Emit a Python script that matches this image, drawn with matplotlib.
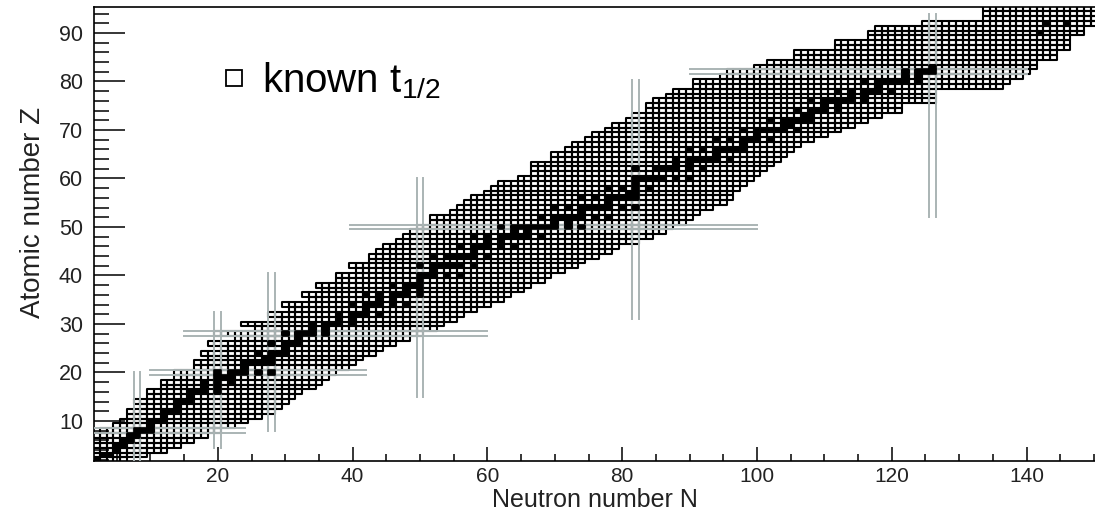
import numpy as np
import matplotlib
matplotlib.use("Agg")
import matplotlib.pyplot as plt
from matplotlib.collections import PatchCollection
from matplotlib.patches import Rectangle
from matplotlib.lines import Line2D
from matplotlib.ticker import MultipleLocator

plt.rcParams['font.family'] = ['Liberation Sans', 'DejaVu Sans']
plt.rcParams['mathtext.default'] = 'regular'

# known half-lives: for each Z, lightest and heaviest N
z_vals = list(range(2, 96))
n_min = [1, 1, 1, 2, 2, 2, 3, 5, 6, 7, 7, 9, 8, 10, 10, 12, 12, 14, 14, 17,
         17, 19, 18, 21, 19, 23, 20, 26, 24, 29, 28, 31, 30, 34, 33, 36, 35, 38, 38, 41,
         40, 43, 43, 44, 45, 47, 48, 49, 50, 52, 52, 55, 56, 57, 58, 60, 61, 62, 65, 67,
         67, 67, 70, 70, 72, 73, 75, 76, 78, 79, 81, 82, 84, 84, 85, 87, 88, 91, 91, 95,
         96, 100, 102, 106, 106, 112, 112, 117, 117, 118, 125, 134, 134, 134]
n_max = [6, 9, 12, 14, 16, 18, 20, 22, 24, 26, 28, 29, 30, 31, 32, 34, 35, 36, 37, 39,
         40, 41, 43, 44, 46, 48, 50, 52, 53, 55, 56, 58, 60, 62, 63, 65, 66, 68, 69, 71,
         73, 74, 76, 78, 79, 82, 84, 86, 87, 89, 90, 91, 93, 95, 96, 96, 97, 98, 99, 100,
         101, 102, 103, 104, 105, 106, 108, 110, 112, 114, 116, 118, 121, 121, 126, 126, 126, 136, 137, 139,
         140, 141, 141, 144, 144, 146, 146, 146, 148, 148, 151, 152, 152, 152]

# stable (filled) nuclides, N values per Z
stable = {
    2: [1, 2], 3: [3, 4], 4: [5], 5: [5, 6], 6: [6, 7], 7: [7, 8], 8: [8, 9, 10],
    9: [10], 10: [10, 11, 12], 11: [12], 12: [12, 13, 14], 13: [14], 14: [14, 15, 16],
    15: [16], 16: [16, 17, 18, 20], 17: [18, 20], 18: [18, 20, 22], 19: [20, 21, 22],
    20: [20, 22, 23, 24, 26, 28], 21: [24], 22: [24, 25, 26, 27, 28], 23: [27, 28],
    24: [26, 28, 29, 30], 25: [30], 26: [28, 30, 31, 32], 27: [32],
    28: [30, 32, 33, 34, 36], 29: [34, 36], 30: [34, 36, 37, 38, 40], 31: [38, 40],
    32: [38, 40, 41, 42, 44], 33: [42], 34: [40, 42, 43, 44, 46, 48], 35: [44, 46],
    36: [42, 44, 46, 47, 48, 50], 37: [48, 50], 38: [46, 48, 49, 50], 39: [50],
    40: [50, 51, 52, 54, 56], 41: [52], 42: [50, 52, 53, 54, 55, 56, 58],
    44: [52, 54, 55, 56, 57, 58, 60], 45: [58], 46: [56, 58, 59, 60, 62, 64],
    47: [60, 62], 48: [58, 60, 62, 63, 64, 65, 66, 68], 49: [64, 66],
    50: [62, 64, 65, 66, 67, 68, 69, 70, 72, 74], 51: [70, 72],
    52: [68, 70, 71, 72, 73, 74, 76, 78], 53: [74],
    54: [70, 72, 74, 75, 76, 77, 78, 80, 82], 55: [78],
    56: [74, 76, 78, 79, 80, 81, 82], 57: [81, 82], 58: [78, 80, 82, 84], 59: [82],
    60: [82, 83, 84, 85, 86, 88, 90], 62: [82, 85, 86, 87, 88, 90, 92], 63: [88, 90],
    64: [88, 90, 91, 92, 93, 94, 96], 65: [94], 66: [90, 92, 94, 95, 96, 97, 98],
    67: [98], 68: [94, 96, 98, 99, 100, 102], 69: [100],
    70: [98, 100, 101, 102, 103, 104, 106], 71: [104, 105],
    72: [102, 104, 105, 106, 107, 108], 73: [107, 108], 74: [106, 108, 109, 110, 112],
    75: [110, 112], 76: [108, 110, 111, 112, 113, 114, 116], 77: [114, 116],
    78: [112, 114, 116, 117, 118, 120], 79: [118], 80: [116, 118, 119, 120, 121, 122, 124],
    81: [122, 124], 82: [122, 124, 125, 126], 83: [126], 90: [142], 92: [143, 146],
}

# magic-number guide lines: vertical (fixed N) and horizontal (fixed Z)
magic_n = [8, 20, 28, 50, 82, 126]
magic_n_zlo = [1.5, 4.5, 8, 15, 31, 52]
magic_n_zhi = [20, 32.5, 40.5, 60, 80.3, 94]
magic_z = [8, 20, 28, 50, 82]
magic_z_nlo = [1.5, 10, 15, 39.6, 90]
magic_z_nhi = [24, 42, 60, 100, 140]

fig = plt.figure(figsize=(10.95, 5.13), dpi=100)
ax = fig.add_axes([94 / 1095, 1 - 461 / 513, 1 - 94 / 1095, (461 - 7) / 513])

boxes = []
for z, lo, hi in zip(z_vals, n_min, n_max):
    for n in range(lo, hi + 1):
        boxes.append(Rectangle((n - 0.5, z - 0.5), 1, 1))
ax.add_collection(PatchCollection(boxes, facecolor='none', edgecolor='black',
                                  linewidth=1.5, zorder=3))

gray = '#aab4b4'
for n, lo, hi in zip(magic_n, magic_n_zlo, magic_n_zhi):
    for off in (-0.5, 0.5):
        ax.plot([n + off, n + off], [lo, hi], color=gray, lw=1.4, zorder=4)
for z, lo, hi in zip(magic_z, magic_z_nlo, magic_z_nhi):
    for off in (-0.5, 0.5):
        ax.plot([lo, hi], [z + off, z + off], color=gray, lw=1.4, zorder=4)

filled = [Rectangle((n - 0.5, z - 0.5), 1, 1) for z, ns in stable.items() for n in ns]
ax.add_collection(PatchCollection(filled, facecolor='black', edgecolor='black',
                                  linewidth=1.2, zorder=5))

ax.set_xlim(1.63, 150.15)
ax.set_ylim(1.75, 95.36)

ax.set_xticks(np.arange(20, 141, 20))
ax.set_yticks(np.arange(10, 91, 10))
ax.xaxis.set_minor_locator(MultipleLocator(5))
ax.yaxis.set_minor_locator(MultipleLocator(2))
ax.tick_params(axis='y', which='major', direction='in', length=22, width=1.1,
               labelsize=15.5, pad=8, labelcolor='#222222')
ax.tick_params(axis='y', which='minor', direction='in', length=11, width=1.1)
ax.tick_params(axis='x', which='major', direction='in', length=10, width=1.1,
               labelsize=15, pad=4, labelcolor='#222222')
ax.tick_params(axis='x', which='minor', direction='in', length=5, width=1.1)
ax.spines['right'].set_visible(False)
for s in ('left', 'top', 'bottom'):
    ax.spines[s].set_linewidth(1.2)

fig.text(595 / 1095, 1 - 507 / 513, 'Neutron number N', ha='center', va='baseline',
         fontsize=18, color='#222222')
fig.text(33 / 1095, 1 - 212 / 513, 'Atomic number Z', ha='center', va='center',
         rotation=90, fontsize=20, color='#222222')

# legend entry
fig.add_artist(Line2D([233.5 / 1095], [1 - 77.5 / 513], marker='s', markersize=11,
                      markerfacecolor='none', markeredgecolor='black', markeredgewidth=1.3,
                      transform=fig.transFigure))
fig.text(262 / 1095, 1 - 92 / 513, 'known t$_{1/2}$', fontsize=29, ha='left',
         va='baseline')

fig.savefig('out.png', dpi=100)
